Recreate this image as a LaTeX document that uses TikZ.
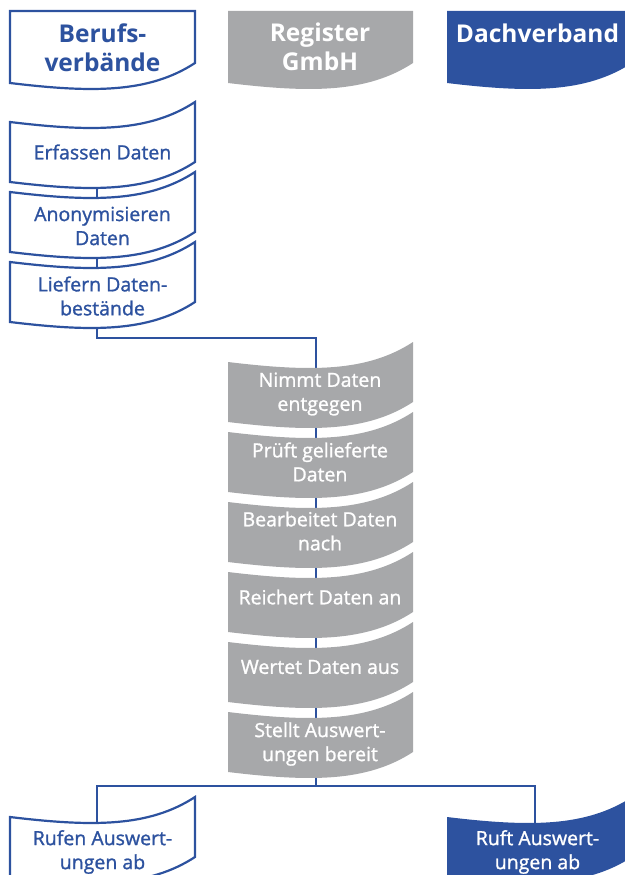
\documentclass[tikz,border=0pt]{standalone}
\usepackage{fontspec}
\setmainfont{Open Sans}
\newfontfamily\stepfont{Open Sans}[FakeBold=1.2]
\usepackage{tikz}
\usetikzlibrary{calc}
\definecolor{verbandblue}{HTML}{2D529F}
\definecolor{registergray}{HTML}{A7A8AA}
\pgfdeclarelayer{background}
\pgfsetlayers{background,main}
\newcommand{\headshape}[3]{\path[#1] (#2,#3) -- ++(185,0) -- ++(0,52) .. controls +(-46,30) and +(83,10) .. ++(-185,20) -- cycle;}
\newcommand{\waveshape}[3]{\path[#1] (#2,#3) .. controls +(83,10) and +(-46,30) .. ++(185,-20) -- ++(0,60) .. controls +(-46,30) and +(83,10) .. ++(-185,20) -- cycle;}

\begin{document}
\begin{tikzpicture}[x=1pt, y=-1pt,
    outlinebox/.style={draw=verbandblue, line width=2.2pt, fill=white},
    graybox/.style={fill=registergray},
    bluebox/.style={fill=verbandblue},
    headtext/.style={font=\fontsize{24.5}{28.5}\selectfont\bfseries, align=center, inner sep=0pt},
    steptext/.style={font=\fontsize{19.5}{24}\stepfont, align=center, inner sep=0pt},
    conn/.style={draw=verbandblue, line width=1.8pt},
]
\useasboundingbox (0,0) rectangle (624,875);

\headshape{outlinebox}{10}{11}
\headshape{graybox}{228}{11}
\headshape{bluebox}{447}{11}
\node[headtext, text=verbandblue] (berufs) at (102.5,47.5) {Berufs-\\verbände};
\node[headtext, text=white] (register) at (320,47) {Register\\GmbH};
\node[headtext, text=white] (dach) at (537.5,33) {Dachverband};

\waveshape{outlinebox}{10}{122}
\waveshape{outlinebox}{10}{192}
\waveshape{outlinebox}{10}{262}
\node[steptext, text=verbandblue] (erf) at (102.5,152) {Erfassen Daten};
\node[steptext, text=verbandblue] (anon) at (102.5,226) {Anonymisieren\\Daten};
\node[steptext, text=verbandblue] (lief) at (102.5,296) {Liefern Daten-\\bestände};

\waveshape{graybox}{228}{362}
\waveshape{graybox}{228}{432}
\waveshape{graybox}{228}{502}
\waveshape{graybox}{228}{572}
\waveshape{graybox}{228}{642}
\waveshape{graybox}{228}{712}
\node[steptext, text=white] (nimmt) at (320,394) {Nimmt Daten\\entgegen};
\node[steptext, text=white] (pruef) at (320,462) {Prüft gelieferte\\Daten};
\node[steptext, text=white] (bearb) at (320,531) {Bearbeitet Daten\\nach};
\node[steptext, text=white] (anreich) at (320,597) {Reichert Daten an};
\node[steptext, text=white] (auswert) at (320,667) {Wertet Daten aus};
\node[steptext, text=white] (bereit) at (320,744) {Stellt Auswert-\\ungen bereit};

\waveshape{outlinebox}{10}{817}
\waveshape{bluebox}{447}{817}
\node[steptext, text=verbandblue] (rufen) at (102.5,852) {Rufen Auswert-\\ungen ab};
\node[steptext, text=white] (ruft) at (537.5,852) {Ruft Auswert-\\ungen ab};

\begin{pgfonlayer}{background}
\draw[conn] ([xshift=-5.5pt]erf.center) -- ([xshift=-5.5pt]anon.center);
\draw[conn] ([xshift=-5.5pt]anon.center) -- ([xshift=-5.5pt]lief.center);
\draw[conn] ([xshift=-5.5pt]lief.center) -- ++(0,42) -| ([xshift=-4pt]nimmt.center);
\foreach \a/\b in {nimmt/pruef, pruef/bearb, bearb/anreich, anreich/auswert, auswert/bereit}
  \draw[conn] ([xshift=-4pt]\a.center) -- ([xshift=-4pt]\b.center);
\draw[conn] ([xshift=-4pt]bereit.center) -- ++(0,42) coordinate (verteil);
\draw[conn] ([xshift=-5.5pt]rufen.center) |- (verteil) -| ([xshift=-2.5pt]ruft.center);
\end{pgfonlayer}
\end{tikzpicture}
\end{document}
